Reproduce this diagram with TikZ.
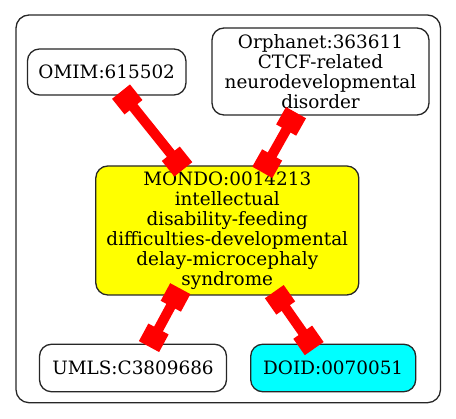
\documentclass[tikz,border=0pt]{standalone}
\usepackage{fontspec}
\setmainfont{DejaVu Serif}
\usetikzlibrary{arrows.meta,calc}
\definecolor{pureyellow}{RGB}{255,255,0}
\definecolor{purecyan}{RGB}{0,255,255}
\definecolor{purered}{RGB}{255,0,0}
\tikzset{
  ent/.style={draw=black!85, line width=1.3pt, rounded corners=12pt, inner sep=0pt, align=center,
    font=\fontsize{18.4}{20}\selectfont},
  link/.style={draw=purered, line width=10pt, {Square[length=20pt 0 0,width=23pt 0 0]}-{Square[length=20pt 0 0,width=23pt 0 0]}},
  frame/.style={draw=black!85, line width=1.3pt, rounded corners=13pt}
}
\begin{document}
\begin{tikzpicture}[x=1pt,y=1pt]
\useasboundingbox (0,0) rectangle (456,419);
\draw[frame] (16,16.3) rectangle (440.5,404);
\node[ent, fill=white, minimum width=158.5pt, minimum height=46pt] (omim) at (106.7,347) {OMIM:615502};
\node[ent, fill=white, minimum width=217pt, minimum height=87pt] (orph) at (320.5,347.5) {Orphanet:363611\\CTCF-related\\neurodevelopmental\\disorder};
\node[ent, fill=pureyellow, minimum width=263pt, minimum height=129pt] (mondo) at (227.3,188.5) {MONDO:0014213\\intellectual\\disability-feeding\\difficulties-developmental\\delay-microcephaly\\syndrome};
\node[ent, fill=white, minimum width=187pt, minimum height=47.5pt] (umls) at (133,51) {UMLS:C3809686};
\node[ent, fill=purecyan, minimum width=165pt, minimum height=47.5pt] (doid) at (333.2,51) {DOID:0070051};
\draw[link] ($(omim.south)+(14.3,4)$) -- ($(mondo.north)+(-44,-4)$);
\draw[link] ($(orph.south)+(-24.5,3)$) -- ($(mondo.north)+(35,-7)$);
\draw[link] ($(mondo.south)+(-47,7)$) -- ($(umls.north)+(16,-3)$);
\draw[link] ($(mondo.south)+(47,4)$) -- ($(doid.north)+(-19,-5)$);
\end{tikzpicture}
\end{document}
